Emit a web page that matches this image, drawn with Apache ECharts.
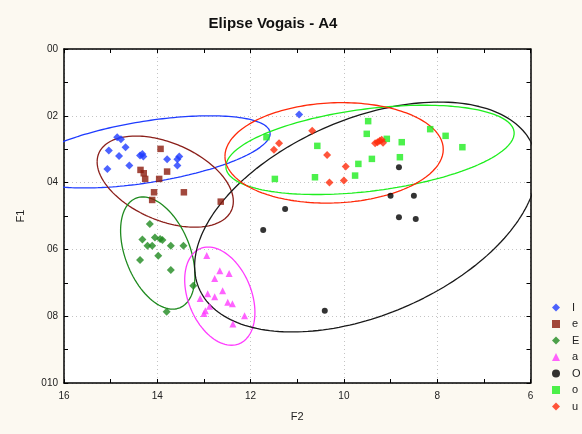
<!DOCTYPE html>
<html>
<head>
<meta charset="utf-8">
<script src="https://cdn.jsdelivr.net/npm/echarts@6/dist/echarts.min.js"></script>
<style>
  html, body { margin: 0; padding: 0; background: #fcf9f1; }
  #chart { width: 582px; height: 434px; }
</style>
</head>
<body>
<div id="chart"></div>
<script>
// Vowel measurements, each point is [F2, F1]
const vowelI = [
  [14.86, 2.64], [14.78, 2.70], [14.68, 2.94], [15.04, 3.04], [14.82, 3.20],
  [14.60, 3.49], [15.07, 3.59], [14.37, 3.19], [14.32, 3.14], [14.30, 3.22],
  [13.79, 3.30], [13.57, 3.30], [13.53, 3.22], [13.57, 3.49], [10.96, 1.96]
];
const vowelE = [
  [13.93, 2.99], [14.36, 3.62], [14.29, 3.72], [14.26, 3.89], [13.96, 3.89],
  [13.79, 3.67], [14.07, 4.29], [13.43, 4.29], [14.11, 4.52], [12.64, 4.57]
];
const vowelEps = [
  [14.16, 5.24], [14.32, 5.70], [14.05, 5.64], [13.94, 5.69], [13.89, 5.72],
  [14.21, 5.89], [14.11, 5.89], [13.71, 5.89], [13.44, 5.89], [13.98, 6.19],
  [14.37, 6.32], [13.71, 6.62], [13.23, 7.09], [13.80, 7.87]
];
const vowelA = [
  [12.94, 6.18], [12.66, 6.64], [12.46, 6.72], [12.77, 6.87], [12.60, 7.24],
  [12.92, 7.33], [12.77, 7.42], [13.08, 7.47], [12.49, 7.58], [12.39, 7.63],
  [12.88, 7.70], [12.97, 7.84], [13.00, 7.92], [12.13, 7.99], [12.38, 8.23]
];
const vowelOpen = [
  [8.82, 3.54], [9.00, 4.39], [8.50, 4.39], [8.82, 5.04], [8.46, 5.09],
  [11.26, 4.79], [11.73, 5.42], [10.41, 7.84]
];
const vowelO = [
  [9.48, 2.16], [9.51, 2.54], [9.08, 2.69], [8.76, 2.79], [8.15, 2.40],
  [7.82, 2.60], [7.46, 2.94], [8.80, 3.24], [9.40, 3.29], [9.69, 3.44],
  [9.76, 3.79], [11.66, 2.64], [10.57, 2.90], [10.62, 3.84], [11.48, 3.89]
];
const vowelU = [
  [10.68, 2.45], [11.39, 2.82], [11.50, 3.02], [10.36, 3.17], [9.96, 3.52],
  [10.00, 3.94], [10.31, 4.00], [9.33, 2.82], [9.23, 2.75], [9.16, 2.81],
  [9.28, 2.79], [9.19, 2.72]
];

// Dispersion ellipses: centre and two conjugate semi-diameters, in [F2, F1] units
const ellipseI    = { c: [14.22, 3.08], u: [2.64, 0.55],  v: [0, 0.93] };
const ellipseE    = { c: [13.83, 3.97], u: [1.46, -0.59], v: [0, 1.23] };
const ellipseEps  = { c: [13.99, 6.11], u: [-0.32, 1.68], v: [0.73, 0] };
const ellipseA    = { c: [12.66, 7.40], u: [-0.25, 1.47], v: [0.71, 0] };
const ellipseOpen = { c: [9.53, 5.03],  u: [3.67, 1.475], v: [0, 3.11] };
const ellipseO    = { c: [9.44, 3.02],  u: [3.09, 0.50],  v: [0, 1.24] };
const ellipseU    = { c: [10.21, 3.11], u: [2.34, 0.105], v: [0, 1.50] };

const legendNames = ['I', 'e', 'E', 'a', 'O', 'o', 'u'];
const xTicks = { min: 6, max: 16, step: 2 };
const yTicks = { min: 0, max: 10, step: 2 };

function ellipsePath(e) {
  const pts = [];
  const n = 200;
  for (let i = 0; i <= n; i++) {
    const t = 2 * Math.PI * i / n;
    const c = Math.cos(t), s = Math.sin(t);
    pts.push([e.c[0] + e.u[0] * c + e.v[0] * s, e.c[1] + e.u[1] * c + e.v[1] * s]);
  }
  return pts;
}

const groups = [
  { name: 'I', data: vowelI,    ell: ellipseI,    color: '#1f3cff', line: '#1f3cff', symbol: 'diamond',  size: 8 },
  { name: 'e', data: vowelE,    ell: ellipseE,    color: '#8b1a0c', line: '#8b1f1a', symbol: 'rect',     size: 6.5 },
  { name: 'E', data: vowelEps,  ell: ellipseEps,  color: '#1f8a1f', line: '#1f8a1f', symbol: 'diamond',  size: 8 },
  { name: 'a', data: vowelA,    ell: ellipseA,    color: '#ff3cff', line: '#ff3cff', symbol: 'triangle', size: 7 },
  { name: 'O', data: vowelOpen, ell: ellipseOpen, color: '#000000', line: '#1a1a1a', symbol: 'circle',   size: 6 },
  { name: 'o', data: vowelO,    ell: ellipseO,    color: '#1fee1f', line: '#1fee1f', symbol: 'rect',     size: 6.5 },
  { name: 'u', data: vowelU,    ell: ellipseU,    color: '#ff2a0a', line: '#ff2a0a', symbol: 'diamond',  size: 8 }
];

const series = [];
groups.forEach(g => {
  series.push({
    name: g.name + '-elipse',
    type: 'line',
    data: ellipsePath(g.ell),
    showSymbol: false,
    symbol: 'none',
    silent: true,
    clip: true,
    lineStyle: { color: g.line, width: 1.3 },
    z: 2
  });
});
groups.forEach(g => {
  series.push({
    name: g.name,
    type: 'scatter',
    data: g.data,
    symbol: g.symbol,
    symbolSize: g.size,
    itemStyle: { color: g.color },
    z: 3
  });
});

const gridTicks = {
  axisLine: { show: true, onZero: false, lineStyle: { color: '#000', width: 1.5 } },
  axisTick: { show: true, inside: true, length: 4, lineStyle: { color: '#000', width: 1 } },
  minorTick: { show: true, splitNumber: 2, length: 4, lineStyle: { color: '#000', width: 1 } }
};

const chart = echarts.init(document.getElementById('chart'), null, { renderer: 'canvas' });
chart.setOption({
  backgroundColor: '#fcf9f1',
  animation: false,
  title: {
    text: 'Elipse Vogais - A4',
    left: 268,
    top: 11,
    textAlign: 'center',
    textStyle: { fontFamily: 'Liberation Sans, Arial, sans-serif', fontSize: 15, fontWeight: 'bold', color: '#111' }
  },
  grid: {
    left: 64, top: 49, width: 466.5, height: 334,
    show: true, backgroundColor: '#ffffff', borderWidth: 0
  },
  legend: {
    data: legendNames,
    orient: 'vertical',
    left: 547,
    top: 297,
    itemWidth: 8,
    itemHeight: 8,
    itemGap: 5.5,
    textStyle: { fontFamily: 'Liberation Sans, Arial, sans-serif', fontSize: 11, color: '#222', padding: [0, 0, 0, 7] }
  },
  xAxis: [
    Object.assign({
      type: 'value', min: xTicks.min, max: xTicks.max, interval: xTicks.step, inverse: true,
      position: 'bottom',
      name: 'F2', nameLocation: 'middle', nameGap: 28,
      nameTextStyle: { fontFamily: 'Liberation Sans, Arial, sans-serif', fontSize: 11, color: '#222' },
      axisLabel: { margin: 8, fontFamily: 'Liberation Sans, Arial, sans-serif', fontSize: 10, color: '#222' },
      splitLine: { show: true, lineStyle: { color: '#c4c4c4', type: [1, 3], width: 1 } }
    }, gridTicks),
    Object.assign({
      type: 'value', min: xTicks.min, max: xTicks.max, interval: xTicks.step, inverse: true,
      position: 'top', axisLabel: { show: false }, splitLine: { show: false }
    }, gridTicks)
  ],
  yAxis: [
    Object.assign({
      type: 'value', min: yTicks.min, max: yTicks.max, interval: yTicks.step, inverse: true,
      position: 'left',
      name: 'F1', nameLocation: 'middle', nameGap: 38,
      nameTextStyle: { fontFamily: 'Liberation Sans, Arial, sans-serif', fontSize: 11, color: '#222' },
      axisLabel: { margin: 6, fontFamily: 'Liberation Sans, Arial, sans-serif', fontSize: 10, color: '#222',
                   formatter: v => '0' + v },
      splitLine: { show: true, lineStyle: { color: '#c4c4c4', type: [1, 3], width: 1 } }
    }, gridTicks),
    Object.assign({
      type: 'value', min: yTicks.min, max: yTicks.max, interval: yTicks.step, inverse: true,
      position: 'right', axisLabel: { show: false }, splitLine: { show: false }
    }, gridTicks)
  ],
  series: series
});
</script>
</body>
</html>
